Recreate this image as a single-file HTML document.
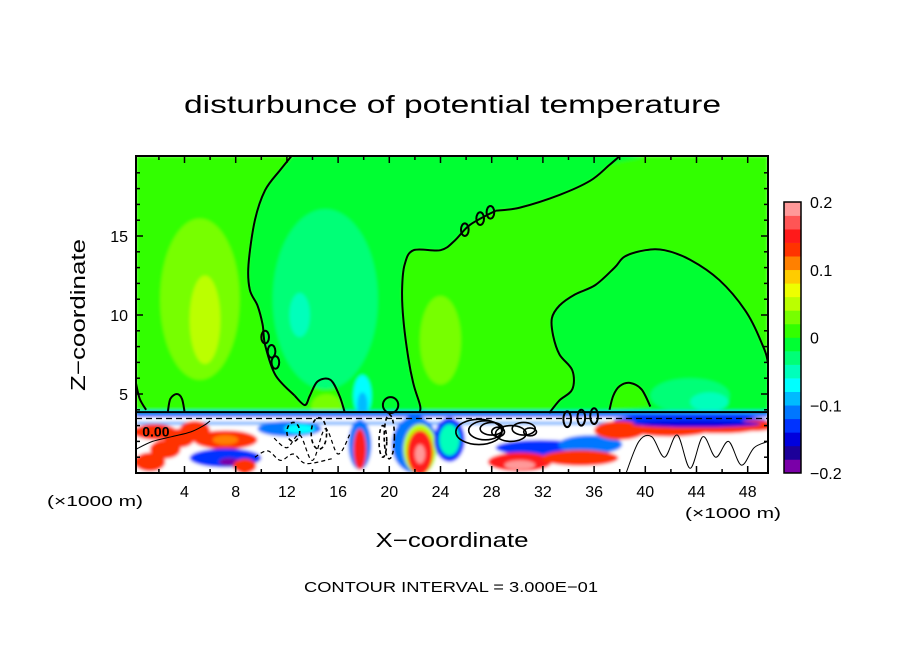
<!DOCTYPE html>
<html><head><meta charset="utf-8"><style>
html,body{margin:0;padding:0;background:#fff;}
svg{display:block;font-family:"Liberation Sans",sans-serif;}
</style></head><body>
<svg id="chart" width="904" height="654" viewBox="0 0 904 654" xmlns="http://www.w3.org/2000/svg">
<defs>
<clipPath id="plotclip"><rect x="136" y="156" width="632" height="317"/></clipPath>
<filter id="soft" x="-20%" y="-20%" width="140%" height="140%"><feGaussianBlur stdDeviation="1.6"/></filter>
</defs>
<text x="184" y="113" font-size="25" textLength="537" lengthAdjust="spacingAndGlyphs">disturbunce of potential temperature</text>
<g id="field" clip-path="url(#plotclip)"></g>
<g id="contours" clip-path="url(#plotclip)"></g>
<rect x="136" y="156" width="632" height="317" fill="none" stroke="#000" stroke-width="2"/>
<g id="axes"></g>
<g id="cbar"></g>
<text x="85" y="315" font-size="20" text-anchor="middle" transform="rotate(-90 85 315)" textLength="152" lengthAdjust="spacingAndGlyphs">Z−coordinate</text>
<text x="452" y="547" font-size="20" text-anchor="middle" textLength="153" lengthAdjust="spacingAndGlyphs">X−coordinate</text>
<text x="47" y="506" font-size="15" textLength="96" lengthAdjust="spacingAndGlyphs">(×1000 m)</text>
<text x="685" y="518" font-size="15" textLength="96" lengthAdjust="spacingAndGlyphs">(×1000 m)</text>
<text x="304" y="592" font-size="15" textLength="294" lengthAdjust="spacingAndGlyphs">CONTOUR INTERVAL = 3.000E−01</text>
</svg>
<script>
// ---- data ----
const xTicks = [4,8,12,16,20,24,28,32,36,40,44,48];
const zTicks = [5,10,15];
const cbarTicks = [0.2,0.1,0,-0.1,-0.2];
const cbarTickLabels = ["0.2","0.1","0","−0.1","−0.2"];
const levelColors = ["#7a00a8","#1c0099","#0000dd","#0033ff","#0077ff","#00bbff","#00ffff","#00ffbb","#00ff77","#00ff33","#33ff00","#77ff00","#bbff00","#eeff00","#ffcc00","#ff8000","#ff3300","#ff1a1a","#ff5555","#ff9999"];
const negRegionX = [12.5,38.0,37.2,35.7,33.3,30.2,28.3,26.3,25.1,24.0,21.9,21.2,21.0,21.1,21.5,21.9,22.4,22.4,16.5,16.1,15.4,14.4,13.8,13.4,12.6,11.1,10.3,10.1,9.7,9.1,9.0,9.5,10.3,11.5];
const negRegionZ = [20.1,20.1,19.5,18.5,17.6,16.8,16.6,15.7,14.7,14.1,14.1,13.2,11.6,9.7,7.2,5.6,4.3,3.9,3.9,4.9,5.9,5.8,4.9,4.3,4.9,6.2,8.1,9.4,10.6,11.6,13.2,16.0,17.9,19.2];
const domeX = [32.5,33.3,34.3,34.3,33.3,32.8,32.7,33.3,34.5,36.1,37.6,38.4,40.0,41.5,43.5,45.8,47.8,49.0,49.6,49.6];
const domeZ = [3.8,4.6,5.3,6.5,7.5,8.7,9.8,10.6,11.3,11.9,13.0,13.7,14.1,14.1,13.5,12.2,10.3,8.4,6.8,3.8];
const smallDomeX = [37.2,37.5,38.0,38.8,39.7,40.4];
const smallDomeZ = [4.0,4.9,5.5,5.7,5.3,4.2];
const leftBumpX = [2.7,2.9,3.4,3.8,4.0];
const leftBumpZ = [3.9,4.7,5.0,4.7,3.9];
const leftEdgeX = [0.2,0.5,1.0];
const leftEdgeZ = [5.7,4.7,4.0];
const bumpBX = [12.6,13.4,13.8,14.4,15.4,16.1,16.5];
const bumpBZ = [4.9,4.3,4.9,5.8,5.9,4.9,3.9];
const topLineX = [38.2,37.2,35.7,33.3,30.2,28.3];
const topLineZ = [20.2,19.5,18.5,17.6,16.8,16.6];
const ovalX = [10.3,10.8,11.1,25.9,27.1,27.9,20.1,33.9,35.0,36.0];
const ovalZ = [8.6,7.7,7.0,15.4,16.1,16.5,4.3,3.4,3.5,3.6];
const ovalRX = [0.3,0.3,0.3,0.3,0.3,0.3,0.6,0.3,0.3,0.3];
const ovalRZ = [0.4,0.4,0.4,0.4,0.4,0.4,0.5,0.5,0.5,0.5];
const blobX = [5.2,5.6,15.0,13.0,17.9,17.9,24.0,15.1,43.5,45.0];
const blobZ = [11.0,9.7,11.0,10.0,4.9,4.3,8.4,4.2,4.9,4.5];
const blobRX = [3.1,1.2,4.1,0.8,0.7,0.4,1.6,1.2,3.1,1.5];
const blobRZ = [5.1,2.8,5.7,1.4,1.3,0.8,2.8,0.8,1.1,0.6];
const blobV = [0.03,0.05,-0.03,-0.05,-0.07,-0.1,0.03,0.03,-0.03,-0.05];
const lowX = [1.7,1.3,2.5,3.6,4.8,7.2,7.2,7.2,7.5,8.7,12.2,13.0,17.7,17.7,22.0,22.4,22.4,22.4,24.7,24.7,31.8,35.7,30.2,34.9,30.2,43.5,38.0,41.9,45.8,48.6,44.0];
const lowZ = [2.6,0.7,1.5,2.2,2.7,2.1,2.1,0.95,0.7,0.45,2.8,2.8,1.8,1.5,1.8,1.5,1.3,1.2,2.1,2.1,1.6,1.8,0.7,0.95,0.5,3.35,2.7,2.7,2.85,3.0,3.1];
const lowRX = [1.7,1.2,1.2,1.2,1.2,2.5,1.0,2.8,0.8,0.9,2.5,1.2,0.9,0.5,1.8,1.3,1.0,0.4,1.2,0.8,3.5,2.5,2.5,3.0,1.2,6,2,3,3,1.5,5];
const lowRZ = [0.5,0.6,0.6,0.6,0.6,0.6,0.3,0.6,0.25,0.45,0.5,0.3,1.6,1.3,1.8,1.6,1.4,0.6,1.4,1.0,0.5,0.6,0.6,0.5,0.3,0.3,0.6,0.4,0.35,0.35,0.2];
const lowV = [0.12,0.13,0.13,0.13,0.13,0.12,0.1,-0.13,-0.19,0.13,-0.12,-0.07,-0.12,0.14,-0.12,0.04,0.15,0.19,-0.13,-0.06,-0.13,-0.12,0.14,0.12,0.18,-0.14,0.13,0.12,0.12,0.12,-0.15];
const ringX = [27.0,27.5,28.0,28.5,29.5,30.5,31.0,20.0,19.5,14.5,12.5];
const ringZ = [2.6,2.7,2.8,2.6,2.5,2.8,2.6,2.3,2.0,2.5,2.6];
const ringRX = [1.8,1.3,0.9,0.5,1.2,0.9,0.5,0.4,0.3,0.6,0.5];
const ringRZ = [0.8,0.6,0.4,0.3,0.5,0.4,0.25,1.4,1.0,1.0,0.6];
// thin boundary-layer contours
const waveRX = [38.5,39.5,40.5,41.5,42.5,43.5,44.5,45.5,46.5,47.5,48.5,49.6];
const waveRZ = [0.0,2.0,2.3,1.0,2.4,0.3,2.3,1.0,2.0,0.5,1.6,2.0];
const waveLX = [0.2,1.5,3.0,4.5,5.5,6.0];
const waveLZ = [1.5,2.0,2.3,2.6,3.0,3.3];
const dashAX = [11.0,12.0,13.0,14.0,15.0,16.0,17.0];
const dashAZ = [2.2,1.6,2.4,0.8,2.8,1.2,2.6];
const dashBX = [9.5,10.5,11.5,12.5,13.5,15.5];
const dashBZ = [1.0,1.4,0.8,1.2,0.6,0.9];

// ---- axes functions ----
const X = v => 133.3 + 12.8*v;
const Z = v => 473 - 15.8*v;
const CB = v => 337.5 - (v/0.2)*135.5;
const NS = "http://www.w3.org/2000/svg";
function mk(tag, attrs, parent){const e=document.createElementNS(NS,tag);for(const k in attrs)e.setAttribute(k,attrs[k]);parent.appendChild(e);return e;}
function colorOf(v){let i=Math.floor((v+0.2)/0.02);i=Math.max(0,Math.min(19,i));return levelColors[i];}
function pts(xs,zs){return xs.map((x,i)=>X(x).toFixed(1)+","+Z(zs[i]).toFixed(1)).join(" ");}
function smooth(xs,zs){
  const P=xs.map((x,i)=>[X(x),Z(zs[i])]);
  let d="M"+P[0][0].toFixed(1)+","+P[0][1].toFixed(1);
  for(let i=0;i<P.length-1;i++){
    const p0=P[Math.max(0,i-1)],p1=P[i],p2=P[i+1],p3=P[Math.min(P.length-1,i+2)];
    const c1=[p1[0]+(p2[0]-p0[0])/6,p1[1]+(p2[1]-p0[1])/6];
    const c2=[p2[0]-(p3[0]-p1[0])/6,p2[1]-(p3[1]-p1[1])/6];
    d+=" C"+c1[0].toFixed(1)+","+c1[1].toFixed(1)+" "+c2[0].toFixed(1)+","+c2[1].toFixed(1)+" "+p2[0].toFixed(1)+","+p2[1].toFixed(1);
  }
  return d;
}

const field=document.getElementById('field');
const soft=mk('g',{filter:'url(#soft)'},field);
let r=mk('rect',{x:136,y:156,width:632,height:317,fill:colorOf(0.01)},soft);


let p=mk('path',{d:smooth(negRegionX,negRegionZ)+"Z",fill:colorOf(-0.01)},soft);


p=mk('path',{d:smooth(domeX,domeZ)+"Z",fill:colorOf(-0.01)},soft);


p=mk('path',{d:smooth(smallDomeX,smallDomeZ)+"Z",fill:colorOf(0.01)},soft);


blobX.forEach((x,i)=>{
  const e=mk('ellipse',{cx:X(x),cy:Z(blobZ[i]),rx:blobRX[i]*12.8,ry:blobRZ[i]*15.8,fill:colorOf(blobV[i])},soft);
  
  
});
let bl=mk('rect',{x:136,y:Z(3.95),width:632,height:Z(0)-Z(3.95),fill:'#ffffff'},soft);


let b1=mk('rect',{x:136,y:Z(3.95),width:632,height:Z(3.75)-Z(3.95),fill:'#00bbff'},soft);


let b2=mk('rect',{x:136,y:Z(3.75),width:632,height:Z(3.55)-Z(3.75),fill:'#0033ff'},soft);


let b3=mk('rect',{x:136,y:Z(3.25),width:632,height:Z(3.05)-Z(3.25),fill:'#0077ff',opacity:0.6},soft);


lowX.forEach((x,i)=>{
  const e=mk('ellipse',{cx:X(x),cy:Z(lowZ[i]),rx:lowRX[i]*12.8,ry:lowRZ[i]*15.8,fill:colorOf(lowV[i])},soft);
  
  
});

const cg=document.getElementById('contours');
function line(xs,zs,name,w,dash){
  const e=mk('path',{d:smooth(xs,zs),fill:'none',stroke:'#000','stroke-width':w||2,'stroke-linejoin':'round','stroke-dasharray':dash||'none'},cg);
  
  
}
line(topLineX,topLineZ,'zero-contour-top');
line(negRegionX.slice(6,18),negRegionZ.slice(6,18),'zero-contour-main-right');
line(negRegionX.slice(24,34).concat([12.5]),negRegionZ.slice(24,34).concat([20.2]),'zero-contour-main-left');
line(bumpBX,bumpBZ,'zero-contour-bumps');
line(domeX,domeZ,'zero-contour-dome');
line(smallDomeX,smallDomeZ,'zero-contour-small-dome');
line(leftBumpX,leftBumpZ,'zero-contour-left-bump');
line(leftEdgeX,leftEdgeZ,'zero-contour-left-edge');
line(waveRX,waveRZ,'thin-contour-right',1);
line(waveLX,waveLZ,'thin-contour-left',1);
line(dashAX,dashAZ,'dashed-contour-a',1.2,'4 3');
line(dashBX,dashBZ,'dashed-contour-b',1.2,'4 3');
let zl=mk('line',{x1:136,y1:Z(3.85),x2:768,y2:Z(3.85),stroke:'#000','stroke-width':2},cg);


let dl=mk('line',{x1:136,y1:Z(3.45),x2:768,y2:Z(3.45),stroke:'#000','stroke-width':1.2,'stroke-dasharray':'6 4'},cg);


ovalX.forEach((x,i)=>{
  const e=mk('ellipse',{cx:X(x),cy:Z(ovalZ[i]),rx:ovalRX[i]*12.8,ry:ovalRZ[i]*15.8,fill:'none',stroke:'#000','stroke-width':2},cg);
  
  
});
ringX.forEach((x,i)=>{
  const e=mk('ellipse',{cx:X(x),cy:Z(ringZ[i]),rx:ringRX[i]*12.8,ry:ringRZ[i]*15.8,fill:'none',stroke:'#000','stroke-width':1.6,'stroke-dasharray':i>6?'4 3':'none'},cg);
  
  
});
let lbl=mk('text',{x:X(0.7),y:Z(2.3),'font-size':14,'font-weight':'bold'},cg);
lbl.textContent='0.00';



const ax=document.getElementById('axes');
for(let v=1; v<50; v++){
  const major = v%4===0, mid = v%2===0;
  const len = major?7:(mid?4:0);
  if(!len) continue;
  let t=mk('line',{x1:X(v),y1:473,x2:X(v),y2:473-len,stroke:'#000','stroke-width':1.5},ax);
  
  
  t=mk('line',{x1:X(v),y1:156,x2:X(v),y2:156+len,stroke:'#000','stroke-width':1.5},ax);
  
  
}
for(let v=1; v<20; v++){
  const len = v%5===0?7:4;
  let t=mk('line',{x1:136,y1:Z(v),x2:136+len,y2:Z(v),stroke:'#000','stroke-width':1.5},ax);
  
  
  t=mk('line',{x1:768,y1:Z(v),x2:768-len,y2:Z(v),stroke:'#000','stroke-width':1.5},ax);
  
  
}
xTicks.forEach(v=>{
  const t=mk('text',{x:X(v),y:497,'font-size':16,'text-anchor':'middle'},ax);
  t.textContent=v;
  
  
});
zTicks.forEach(v=>{
  const t=mk('text',{x:128,y:Z(v)+6,'font-size':16,'text-anchor':'end'},ax);
  t.textContent=v;
  
  
});

const cb=document.getElementById('cbar');
levelColors.forEach((c,i)=>{
  const lo=-0.2+i*0.02, hi=lo+0.02;
  const e=mk('rect',{x:784,y:CB(hi),width:17,height:CB(lo)-CB(hi)+0.3,fill:c},cb);
  
  
});
let cf=mk('rect',{x:784,y:CB(0.2),width:17,height:CB(-0.2)-CB(0.2),fill:'none',stroke:'#000','stroke-width':1.5},cb);


cbarTicks.forEach((v,i)=>{
  const t=mk('text',{x:810,y:CB(v)+6,'font-size':16},cb);
  t.textContent=cbarTickLabels[i];
  
  
});
</script>
</body></html>
